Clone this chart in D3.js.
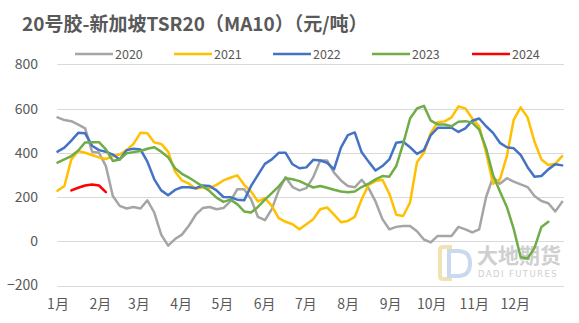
<!DOCTYPE html>
<html><head><meta charset="utf-8">
<script src="https://cdn.jsdelivr.net/npm/d3@7"></script>
<style>html,body{margin:0;padding:0;background:#fff;}svg{display:block;}</style>
</head><body>
<svg id="chart" width="579" height="323"></svg>
<script>
const title = "20号胶-新加坡TSR20（MA10）（元/吨）";
const months = ["1月","2月","3月","4月","5月","6月","7月","8月","9月","10月","11月","12月"];
const monthStartDays = [0,31,59,90,120,151,181,212,243,273,304,334];
const yTicks = [-200,0,200,400,600,800];
const years = ["2020","2021","2022","2023","2024"];
const colors = ["#a5a5a5","#ffc000","#4472c4","#70ad47","#ff0000"];
const dayStep = 5.05; // sample spacing in days (MA10 sampled)

const s2020 = [560,548,543,527,510,405,400,340,205,160,148,155,148,185,130,30,-20,10,30,70,120,150,155,145,150,180,235,235,190,110,95,145,230,290,245,230,240,290,365,365,310,275,250,244,278,240,180,100,54,65,69,69,45,8,-5,24,24,24,65,54,40,54,200,290,260,285,270,257,245,205,182,172,135,178];
const s2021 = [228,250,370,408,400,390,379,372,385,392,412,440,490,488,447,440,405,315,275,260,237,244,240,255,275,287,298,255,225,180,195,160,105,88,77,54,77,100,145,153,120,86,92,110,190,255,272,278,215,120,114,175,357,400,490,538,542,560,610,600,555,520,400,260,280,385,550,605,560,450,370,345,350,385];
const s2022 = [405,423,455,490,488,432,412,405,392,370,412,418,415,360,280,230,208,232,244,244,240,252,250,230,200,199,188,185,250,300,350,370,400,400,348,330,334,368,365,355,325,423,480,492,402,360,320,340,370,445,450,425,395,412,480,513,513,513,494,510,545,555,520,490,445,425,420,390,335,292,295,325,348,343];
const s2023 = [355,370,385,410,447,448,448,415,363,370,398,403,408,418,425,405,380,330,305,288,268,248,227,197,178,188,168,135,130,155,188,218,248,285,280,272,257,243,250,242,233,225,222,225,245,260,280,295,292,340,440,555,600,612,545,528,528,520,540,543,536,505,420,300,225,155,55,-72,-78,-30,65,88];
const s2024 = [null,null,230,242,252,257,252,222];
const seriesValues = [s2020,s2021,s2022,s2023,s2024];

const svg = d3.select("#chart");
const x = d3.scaleLinear().domain([0,370]).range([57.5,564]);
const y = d3.scaleLinear().domain([-200,800]).range([285.5,64.3]);
const font = "'Noto Sans CJK SC','Noto Sans',sans-serif";

// title
svg.append("text").attr("x",22).attr("y",31)
  .attr("font-family",font).attr("font-size",19).attr("font-weight","bold")
  .attr("fill","#595959").text(title);

// gridlines
svg.append("g").selectAll("line").data(yTicks).join("line")
  .attr("x1",x.range()[0]).attr("x2",x.range()[1])
  .attr("y1",d=>Math.round(y(d))+0.5).attr("y2",d=>Math.round(y(d))+0.5)
  .attr("stroke","#d9d9d9").attr("stroke-width",1);

// y axis labels
const yAxis = d3.axisLeft(y).tickValues(yTicks).tickSize(0).tickPadding(0);
const gy = svg.append("g").attr("transform","translate(38,0)").call(yAxis);
gy.select(".domain").remove();
gy.selectAll("text").attr("font-family",font).attr("font-size",14).attr("fill","#595959");

// x axis labels
const xAxis = d3.axisBottom(x).tickValues(monthStartDays).tickFormat((d,i)=>months[i]).tickSize(0).tickPadding(0);
const gx = svg.append("g").attr("transform","translate(0,299)").call(xAxis);
gx.select(".domain").remove();
gx.selectAll("text").attr("font-family",font).attr("font-size",14).attr("fill","#595959");

// watermark
const wm = svg.append("g").attr("opacity",0.8);
wm.append("path").attr("d","M452,247 L443,247 Q440,247 440,250 L440,276 Q440,279 443,279 L452,279")
  .attr("fill","none").attr("stroke","#f0dca0").attr("stroke-width",4);
wm.append("path").attr("d","M449,251 L458,251 Q470,251 470,263 Q470,276 458,276 L449,276 Z")
  .attr("fill","none").attr("stroke","#bcd0ea").attr("stroke-width",4);
wm.append("text").attr("x",477).attr("y",263).attr("font-family",font).attr("font-size",21)
  .attr("font-weight","bold").attr("fill","#c4c4c4").text("大地期货");
wm.append("text").attr("x",478).attr("y",277).attr("font-family","'DejaVu Sans',sans-serif").attr("font-size",8.5)
  .attr("letter-spacing",1.4).attr("fill","#c4c4c4").text("DADI FUTURES");

// series lines
const line = d3.line()
  .defined(d=>d.v!==null && d.v!==undefined)
  .x(d=>x(d.day)).y(d=>y(d.v));
seriesValues.forEach((vals,k)=>{
  const pts = vals.map((v,i)=>({day:i*dayStep, v}));
  svg.append("path").datum(pts).attr("d",line)
    .attr("fill","none").attr("stroke",colors[k]).attr("stroke-width",2.5)
    .attr("stroke-linejoin","round").attr("stroke-linecap","round");
});

// legend
const legendX = [75,174,273,372,472];
const lg = svg.append("g").selectAll("g").data(years).join("g")
  .attr("transform",(d,i)=>`translate(${legendX[i]},54)`);
lg.append("line").attr("x1",0).attr("x2",38).attr("y1",0).attr("y2",0)
  .attr("stroke",(d,i)=>colors[i]).attr("stroke-width",2.5);
lg.append("text").attr("x",40).attr("y",4.5).attr("font-family",font).attr("font-size",12.5)
  .attr("fill","#595959").text(d=>d);
</script>
</body></html>
